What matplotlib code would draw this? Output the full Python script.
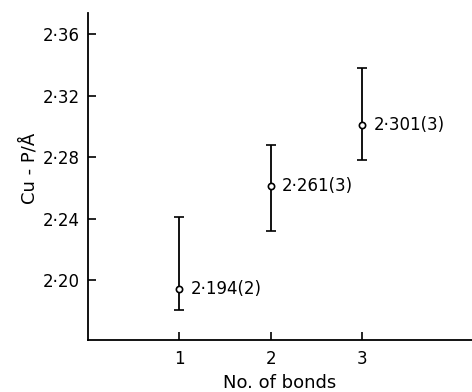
import matplotlib

matplotlib.use("Agg")
import matplotlib.pyplot as plt
import numpy as np

# values
bonds = [1, 2, 3]
cu_p = [2.194, 2.261, 2.301]
err_low = [2.1805, 2.232, 2.278]
err_high = [2.241, 2.288, 2.338]
labels = ["2·194(2)", "2·261(3)", "2·301(3)"]
yticks = [2.20, 2.24, 2.28, 2.32, 2.36]
ytick_labels = ["2·20", "2·24", "2·28", "2·32", "2·36"]

plt.rcParams["font.family"] = ["DejaVu Sans"]

fig = plt.figure(figsize=(4.72, 3.92), dpi=100)
ax = fig.add_axes([0.1864, 0.1327, 0.8136, 0.834])

y = np.array(cu_p)
yerr = np.vstack([y - np.array(err_low), np.array(err_high) - y])
ax.errorbar(bonds, y, yerr=yerr, fmt="o", ms=4.5, mfc="white", mec="black",
            mew=1.2, ecolor="black", elinewidth=1.3, capsize=3.5,
            capthick=1.3, zorder=3)
for xb, yb, lab in zip(bonds, cu_p, labels):
    ax.annotate(lab, (xb, yb), textcoords="offset points", xytext=(8, 0),
                va="center", ha="left", fontsize=12)

ax.set_xlim(0, 4.2)
ax.set_ylim(2.161, 2.3737)
ax.set_xticks(bonds)
ax.set_xticklabels([str(b) for b in bonds], fontsize=12)
ax.set_yticks(yticks)
ax.set_yticklabels(ytick_labels, fontsize=12)
ax.tick_params(direction="in", length=6, width=1.2)
ax.tick_params(axis="x", pad=7)
ax.tick_params(axis="y", pad=6)
ax.spines["top"].set_visible(False)
ax.spines["right"].set_visible(False)
for s in ("left", "bottom"):
    ax.spines[s].set_linewidth(1.3)
ax.set_xlabel("No. of bonds", fontsize=13)
ax.set_ylabel("Cu - P/Å", fontsize=13)
ax.xaxis.set_label_coords(0.5, -0.105)
ax.yaxis.set_label_coords(-0.13, 0.526)

fig.savefig("out.png", dpi=100)
